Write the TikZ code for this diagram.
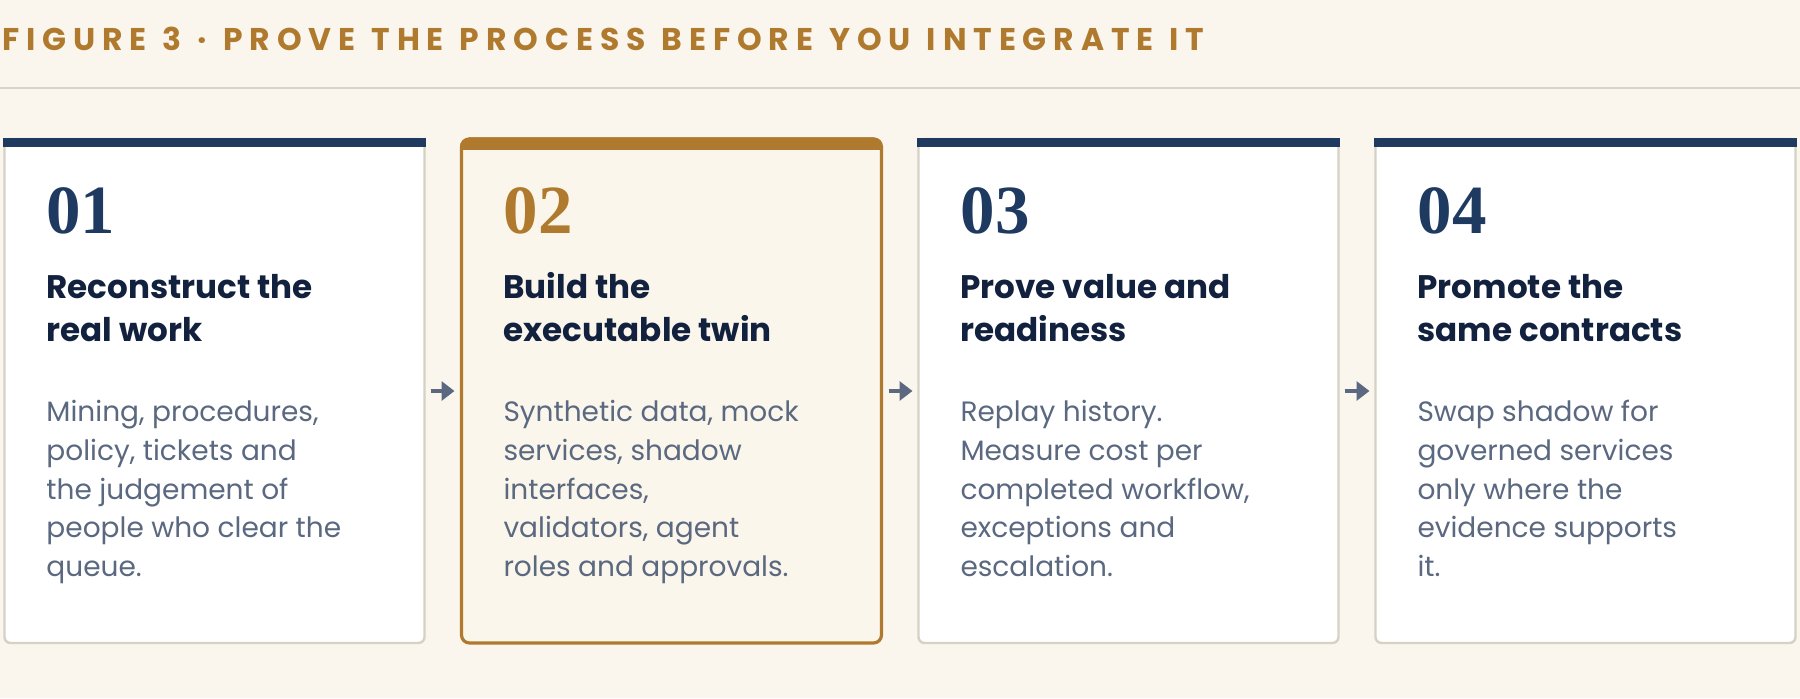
\documentclass[tikz,border=0pt]{standalone}
\usepackage{fontspec}
\setmainfont{Poppins}
\newfontfamily\numfont{Liberation Serif}
\newfontfamily\titlefont[LetterSpace=22,WordSpace=1.18]{Poppins}
\usepackage{tikz}
\usetikzlibrary{positioning}
\usetikzlibrary{arrows.meta}
\definecolor{navy}{RGB}{31,58,96}
\definecolor{ink}{RGB}{18,33,61}
\definecolor{slate}{RGB}{90,104,128}
\definecolor{gold}{RGB}{176,122,46}
\definecolor{cream}{RGB}{250,246,238}
\definecolor{keyfill}{RGB}{251,246,236}
\definecolor{cardline}{RGB}{214,209,196}
\definecolor{rulegray}{RGB}{217,212,200}
\definecolor{arrowgray}{RGB}{92,103,128}

\tikzset{
	card/.style={draw=cardline, line width=1.2pt, fill=white, rounded corners=3pt, minimum width=210pt, minimum height=252pt, inner sep=0pt, outer sep=0pt},
	keycard/.style={card, draw=gold, line width=1.6pt, fill=keyfill, rounded corners=4pt},
	num/.style={font=\numfont\bfseries\fontsize{34.5}{34.5}\selectfont, text=navy, inner sep=0pt, anchor=base west},
	head/.style={font=\bfseries\fontsize{16.3}{21.7}\selectfont, text=ink, align=left, inner sep=0pt, anchor=base west},
	body/.style={font=\fontsize{14}{19.35}\selectfont, text=slate, align=left, inner sep=0pt, anchor=base west},
	flow/.style={draw=arrowgray, line width=2pt, -{Triangle[length=6.5pt,width=9.5pt]}},
}

\begin{document}
\begin{tikzpicture}[x=0.5pt,y=-0.5pt]
	\useasboundingbox (0,0) rectangle (1800,698);
	\fill[cream] (0,0) rectangle (1800,698);
	% heading strip
	\node[font=\titlefont\bfseries\fontsize{15.7}{15.7}\selectfont, text=gold, inner sep=0pt, anchor=base west] (title) at (2,50) {FIGURE 3 · PROVE THE PROCESS BEFORE YOU INTEGRATE IT};
	\draw[rulegray, line width=1pt] (0,88) -- (1800,88);
	% cards
	\node[card] (c1) at (214.5,391) {};
	\node[keycard] (c2) at (671.5,391) {};
	\node[card] (c3) at (1128.5,391) {};
	\node[card] (c4) at (1585.5,391) {};
	\fill[navy] ([shift={(-0.6pt,0.6pt)}]c1.north west) rectangle ([shift={(0.6pt,-4.2pt)}]c1.north east);
	\fill[navy] ([shift={(-0.6pt,0.6pt)}]c3.north west) rectangle ([shift={(0.6pt,-4.2pt)}]c3.north east);
	\fill[navy] ([shift={(-0.6pt,0.6pt)}]c4.north west) rectangle ([shift={(0.6pt,-4.2pt)}]c4.north east);
	\begin{scope}
		\clip[rounded corners=4.8pt] ([shift={(-0.8pt,0.8pt)}]c2.north west) rectangle ([shift={(0.8pt,-0.8pt)}]c2.south east);
		\fill[gold] ([shift={(-0.8pt,0.8pt)}]c2.north west) rectangle ([shift={(0.8pt,-5.5pt)}]c2.north east);
	\end{scope}
	% step texts (base = last line)
	\node[num] (n1) at ([shift={(20.8pt,-47pt)}]c1.north west) {01};
	\node[head] (h1) at ([shift={(20.8pt,-101.3pt)}]c1.north west) {Reconstruct the\\real work};
	\node[body] (b1) at ([shift={(20.8pt,-218.7pt)}]c1.north west) {Mining, procedures,\\policy, tickets and\\the judgement of\\people who clear the\\queue.};
	\node[num, text=gold] (n2) at ([shift={(20.8pt,-47pt)}]c2.north west) {02};
	\node[head] (h2) at ([shift={(20.8pt,-101.3pt)}]c2.north west) {Build the\\executable twin};
	\node[body] (b2) at ([shift={(20.8pt,-218.7pt)}]c2.north west) {Synthetic data, mock\\services, shadow\\interfaces,\\validators, agent\\roles and approvals.};
	\node[num] (n3) at ([shift={(20.8pt,-47pt)}]c3.north west) {03};
	\node[head] (h3) at ([shift={(20.8pt,-101.3pt)}]c3.north west) {Prove value and\\readiness};
	\node[body] (b3) at ([shift={(20.8pt,-218.7pt)}]c3.north west) {Replay history.\\Measure cost per\\completed workflow,\\exceptions and\\escalation.};
	\node[num] (n4) at ([shift={(20.8pt,-47pt)}]c4.north west) {04};
	\node[head] (h4) at ([shift={(20.8pt,-101.3pt)}]c4.north west) {Promote the\\same contracts};
	\node[body] (b4) at ([shift={(20.8pt,-218.7pt)}]c4.north west) {Swap shadow for\\governed services\\only where the\\evidence supports\\it.};
	% flow
	\draw[flow] ([xshift=3pt]c1.east) -- ([xshift=-3.5pt]c2.west);
	\draw[flow] ([xshift=3.5pt]c2.east) -- ([xshift=-3pt]c3.west);
	\draw[flow] ([xshift=3pt]c3.east) -- ([xshift=-3pt]c4.west);
\end{tikzpicture}
\end{document}
